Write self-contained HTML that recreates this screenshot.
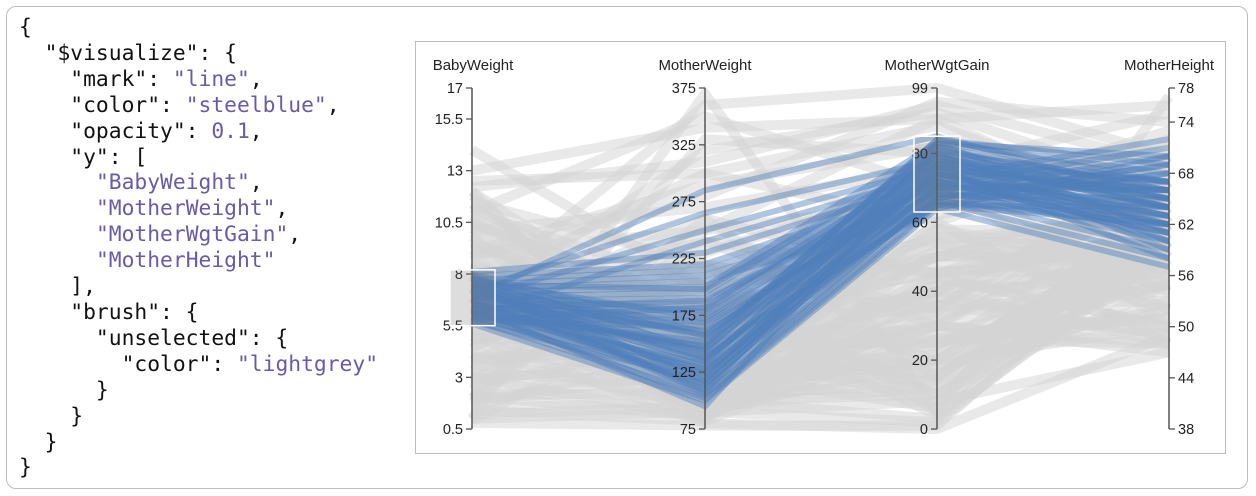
<!DOCTYPE html>
<html><head><meta charset="utf-8">
<style>
body{margin:0;width:1256px;height:496px;background:#fff;overflow:hidden;font-family:"Liberation Sans",sans-serif}
#frame{position:absolute;left:6px;top:6px;width:1242px;height:483px;border:1px solid #bdbdbd;border-radius:10px;box-sizing:border-box}
#code{position:absolute;left:19px;top:15px;margin:0;font-family:"DejaVu Sans Mono","Liberation Mono",monospace;font-size:21.3px;line-height:25.9px;color:#111;letter-spacing:0}
#code .s{color:#6a5aa8}
#chartbox{position:absolute;left:415px;top:41px;width:811px;height:413px;border:1px solid #bdbdbd;box-sizing:border-box}
svg{position:absolute;left:0;top:0}
</style></head><body>
<div id="frame"></div>
<pre id="code">{
  "$visualize": {
    "mark": <span class="s">"line"</span>,
    "color": <span class="s">"steelblue"</span>,
    "opacity": <span class="s">0.1</span>,
    "y": [
      <span class="s">"BabyWeight"</span>,
      <span class="s">"MotherWeight"</span>,
      <span class="s">"MotherWgtGain"</span>,
      <span class="s">"MotherHeight"</span>
    ],
    "brush": {
      "unselected": {
        "color": <span class="s">"lightgrey"</span>
      }
    }
  }
}</pre>
<div id="chartbox"></div>
<svg id="chart" width="1256" height="496"></svg>
<script>
const dims = ["BabyWeight","MotherWeight","MotherWgtGain","MotherHeight"];
const domains = [[0.5,17],[75,375],[0,99],[38,78]];
const ticks0 = [0.5,3,5.5,8,10.5,13,15.5,17];
const ticks1 = [75,125,175,225,275,325,375];
const ticks2 = [0,20,40,60,80,99];
const ticks3 = [38,44,50,56,62,68,74,78];
const brushBW = [5.5,8.2];
const brushGain = [63,85];
// records: [BabyWeight, MotherWeight, MotherWgtGain, MotherHeight]
const greyRecords = [
[1,90,2,60],[1.5,100,10,55],[2,110,20,62],[2.5,120,30,48],[3,130,40,66],[3.5,140,50,58],[4,150,15,64],
[4.5,160,25,52],[5,170,35,70],[5.2,180,45,60],[4.8,200,55,56],[3.8,220,5,63],[2.8,240,30,67],[1.8,260,45,59],
[9,120,20,62],[9.5,140,30,64],[10,160,40,66],[10.5,180,50,60],[11,200,10,58],[11.5,220,35,68],[12,150,25,55],
[8.5,130,55,63],[9.2,110,45,65],[10.2,100,15,61],[12.5,300,60,72],[13,340,90,76],[8.8,280,95,74],[7,360,99,70],
[6.5,320,92,66],[7.5,300,88,64],[9,250,90,62],[6,85,40,48],[7,90,20,50],[5,80,0,49],[8,95,30,47],[6.8,200,20,60],
[7.2,150,40,58],[6.2,180,10,62],[7.8,130,50,65],[6.5,110,30,55],[1,370,5,77],[2,330,80,50],[11,350,70,52],
[4,95,60,48],[3,85,70,54],[6,260,15,63],[7,240,45,61],[12,90,8,47],[0.8,78,1,62],[14,200,50,64],
[1.2,95,12,57],[2.2,105,22,59],[3.2,115,32,61],[4.2,125,42,63],[5.3,135,52,65],[1.6,145,8,67],[2.6,155,18,53],
[3.6,165,28,55],[4.6,175,38,57],[5.4,185,48,59],[0.9,195,58,61],[1.9,125,6,63],[2.9,135,16,65],[3.9,145,26,51],
[4.9,155,36,53],[8.4,165,46,56],[9.4,175,56,58],[10.4,185,4,60],[11.4,125,14,62],[8.6,135,24,64],[9.6,145,34,66],
[10.6,155,44,50],[11.2,165,54,52],[8.3,100,42,54],[9.8,90,33,56],[10.8,115,23,58],[11.8,105,13,60],[6.3,98,36,49],
[7.3,88,26,48],[6.9,92,44,50],[5.9,102,18,52],[7.9,82,52,55],[6.4,120,58,57],[7.6,100,3,59],[3.3,210,62,69],
[2.4,230,72,71],[4.4,250,66,73],[10.1,270,76,75],[9.1,290,82,67],[12.2,310,94,69],[1.4,82,28,51],[2.1,86,38,49]
];
const blueRecords = [
[5.6,100,64,57],[5.8,105,66,58],[6,110,68,59],[6.2,115,70,60],[6.4,120,72,61],[6.6,125,74,62],[6.8,130,76,63],
[7,135,78,64],[7.2,140,80,65],[7.4,145,82,66],[7.6,150,84,67],[7.8,155,65,68],[8,160,67,69],[5.7,165,69,70],
[5.9,170,71,71],[6.1,175,73,72],[6.3,180,75,60],[6.5,185,77,62],[6.7,190,79,64],[6.9,195,81,66],[7.1,200,83,68],
[7.3,205,64,70],[7.5,210,66,63],[7.7,215,68,65],[7.9,220,70,67],[8.1,230,72,61],[6,240,74,63],[6.8,250,76,65],
[7.2,265,78,67],[6.4,95,80,59],[7.6,108,82,64],[5.7,118,76,58],[6.6,128,70,66],[7.4,138,66,62],[6.2,148,84,69],
[7,158,73,64],[6.9,168,69,61],[7.1,178,77,67],[6.3,188,71,63],[7.5,198,79,65],[6.7,112,75,66],[7.3,122,67,68],
[6.1,132,81,60],[7.9,142,65,64],[6,152,83,70],[6.5,162,72,62],[7.7,172,74,66],[5.8,182,78,64],[6.9,285,85,65],
[6.2,102,65,62],[7.4,106,68,64],[6.8,114,71,66],[5.9,124,74,63],[7.1,134,77,65],[6.6,144,80,67],[7.8,117,83,61],
[6.3,127,67,69],[7.2,137,70,62],[6.1,147,73,64],[7.5,157,76,66]
];
const axX = [472,705,937,1169];
const yTop = 88, yBot = 429;
function yScale(i, v){const d=domains[i];return yBot-(v-d[0])/(d[1]-d[0])*(yBot-yTop);}
const NS="http://www.w3.org/2000/svg";
const svg=document.getElementById('chart');
function mk(tag,attrs,parent){const e=document.createElementNS(NS,tag);for(const k in attrs)e.setAttribute(k,attrs[k]);(parent||svg).appendChild(e);return e;}
function path(rec){return rec.map((v,i)=>(i?'L':'M')+axX[i]+','+yScale(i,v).toFixed(1)).join(' ');}
const gGrey=mk('g',{});


greyRecords.forEach(r=>{
  const p=mk('path',{d:path(r),fill:'none',stroke:'#d4d4d4','stroke-width':10,'stroke-opacity':0.5},gGrey);
  
  
});
const gBlue=mk('g',{});


blueRecords.forEach(r=>{
  const p=mk('path',{d:path(r),fill:'none',stroke:'#4f7fbb','stroke-width':6,'stroke-opacity':0.45},gBlue);
  
  
});
const tickSets=[ticks0,ticks1,ticks2,ticks3];
dims.forEach((name,i)=>{
  const g=mk('g',{});
  
  
  mk('line',{x1:axX[i],x2:axX[i],y1:yTop,y2:yBot,stroke:'#555','stroke-width':1.5},g);
  const t=mk('text',{x:i==0?473:(i==3?1169:axX[i]),y:70,'text-anchor':'middle','font-size':15,fill:'#222'},g);
  t.textContent=name;
  
  
  const right=i==3;
  tickSets[i].forEach(v=>{
    const y=yScale(i,v);
    mk('line',{x1:axX[i],x2:right?axX[i]+6:axX[i]-6,y1:y,y2:y,stroke:'#555','stroke-width':1.3},g);
    const l=mk('text',{x:right?axX[i]+9:axX[i]-9,y:y+5,'text-anchor':right?'start':'end','font-size':14.5,fill:'#222'},g);
    l.textContent=v;
    
    
  });
});
const b1=mk('rect',{x:450,y:yScale(0,brushBW[1]),width:45,height:yScale(0,brushBW[0])-yScale(0,brushBW[1]),fill:'#777','fill-opacity':0.25,stroke:'#fff','stroke-width':1.5});


const b2=mk('rect',{x:914,y:yScale(2,brushGain[1]),width:46,height:yScale(2,brushGain[0])-yScale(2,brushGain[1]),fill:'#777','fill-opacity':0.2,stroke:'#fff','stroke-width':1.5});


</script>
</body></html>
